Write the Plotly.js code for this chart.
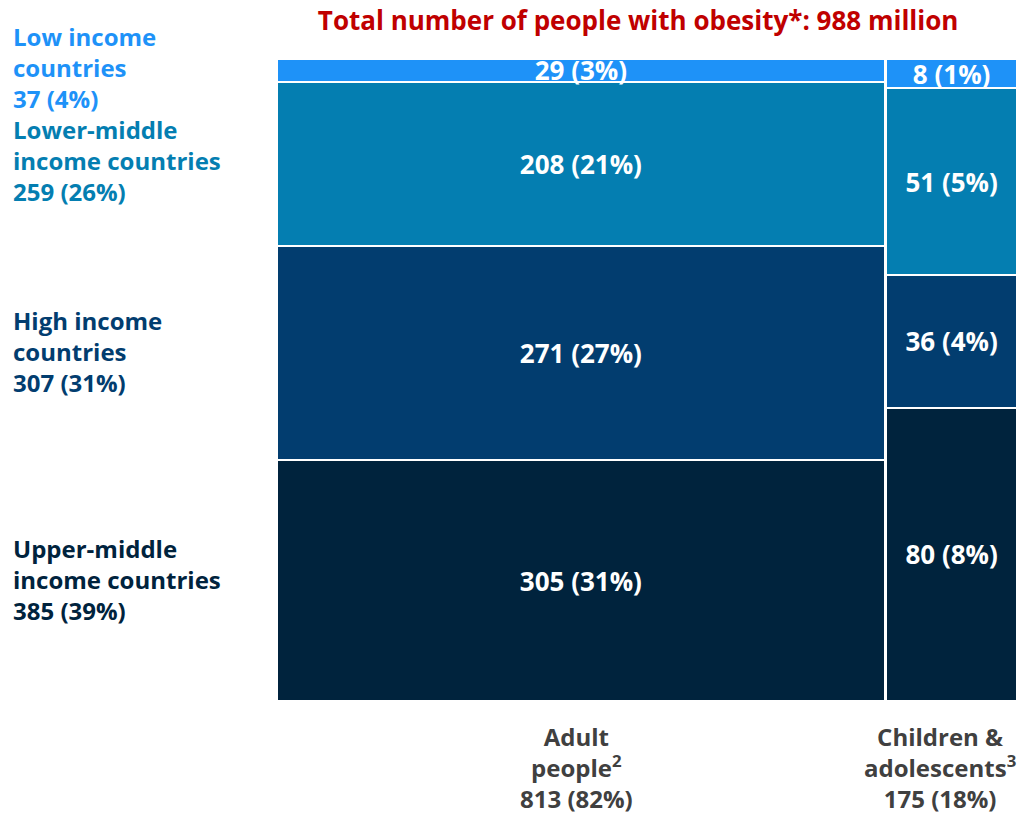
<!DOCTYPE html>
<html>
<head>
<meta charset="utf-8">
<script src="https://cdn.plot.ly/plotly-3.0.1.min.js"></script>
<style>html,body{margin:0;padding:0;background:#fff;}#chart{width:1024px;height:818px;}</style>
</head>
<body>
<div id="chart"></div>
<script>
// Income groups (bottom to top of each stack)
const groups = ["Upper-middle<br>income countries", "High income<br>countries", "Lower-middle<br>income countries", "Low income<br>countries"];
const groupTotals = [385, 307, 259, 37];
const groupPct = [39, 31, 26, 4];
const groupColors = ["#00233D", "#023D6F", "#047EB1", "#1E92F8"];

// Columns
const columns = ["Adult<br>people<sup>2</sup>", "Children &<br>adolescents<sup>3</sup>"];
const columnTotals = [813, 175];
const columnPct = [82, 18];

// Values (millions) per group, per column: [adult, children]
const adultVals = [305, 271, 208, 29];
const adultPct = [31, 27, 21, 3];
const childVals = [80, 36, 51, 8];
const childPct = [8, 4, 5, 1];

const grandTotal = 988;
const gapUnits = 2;

const xCenters = [columnTotals[0] / 2, columnTotals[0] + gapUnits + columnTotals[1] / 2];
const xRange = [0, columnTotals[0] + gapUnits + columnTotals[1]];

const font = "'Open Sans', Lato, sans-serif";

const traces = groups.map((g, i) => ({
  type: "bar",
  name: g,
  x: xCenters,
  width: columnTotals,
  y: [adultVals[i] / columnTotals[0] * 100, childVals[i] / columnTotals[1] * 100],
  text: [adultVals[i] + " (" + adultPct[i] + "%)", childVals[i] + " (" + childPct[i] + "%)"],
  textposition: "inside",
  insidetextanchor: "middle",
  constraintext: "none",
  textfont: {family: font, size: 26, color: "#ffffff", weight: "bold"},
  marker: {color: groupColors[i], line: {color: "#ffffff", width: 2}},
  hoverinfo: "skip",
  cliponaxis: false
}));

// left label positions (paper y)
const labelY = [0.19, 0.545, 0.842, 0.986];
const annotations = groups.map((g, i) => ({
  xref: "paper", yref: "paper",
  x: -0.36, y: labelY[i],
  xanchor: "left", yanchor: "middle", align: "left",
  showarrow: false,
  text: g + "<br>" + groupTotals[i] + " (" + groupPct[i] + "%)",
  font: {family: font, size: 24, color: groupColors[i], weight: "bold"}
}));

// column labels below the bars
const colShift = [-4, -12];
columns.forEach((c, i) => {
  annotations.push({
    xref: "x", yref: "paper",
    x: xCenters[i], y: 0, xshift: colShift[i], yshift: -17,
    xanchor: "center", yanchor: "top", align: "center",
    showarrow: false,
    text: c + "<br>" + columnTotals[i] + " (" + columnPct[i] + "%)",
    font: {family: font, size: 24, color: "#404040", weight: "bold"}
  });
});

const layout = {
  width: 1024, height: 818,
  margin: {l: 277, r: 7, t: 59, b: 117},
  paper_bgcolor: "#ffffff", plot_bgcolor: "#ffffff",
  barmode: "stack",
  showlegend: false,
  uniformtext: {mode: "show", minsize: 26},
  title: {
    text: "Total number of people with obesity*: " + grandTotal + " million",
    font: {family: font, size: 26, color: "#C00000", weight: "bold"},
    xref: "paper", x: 0.488, xanchor: "center",
    yref: "container", y: 0.975, yanchor: "middle"
  },
  xaxis: {
    range: xRange, showgrid: false, zeroline: false, showline: false,
    showticklabels: false, ticks: "", fixedrange: true
  },
  yaxis: {range: [0, 100], visible: false, fixedrange: true},
  annotations: annotations
};

Plotly.newPlot("chart", traces, layout, {displayModeBar: false, staticPlot: true});
</script>
</body>
</html>
